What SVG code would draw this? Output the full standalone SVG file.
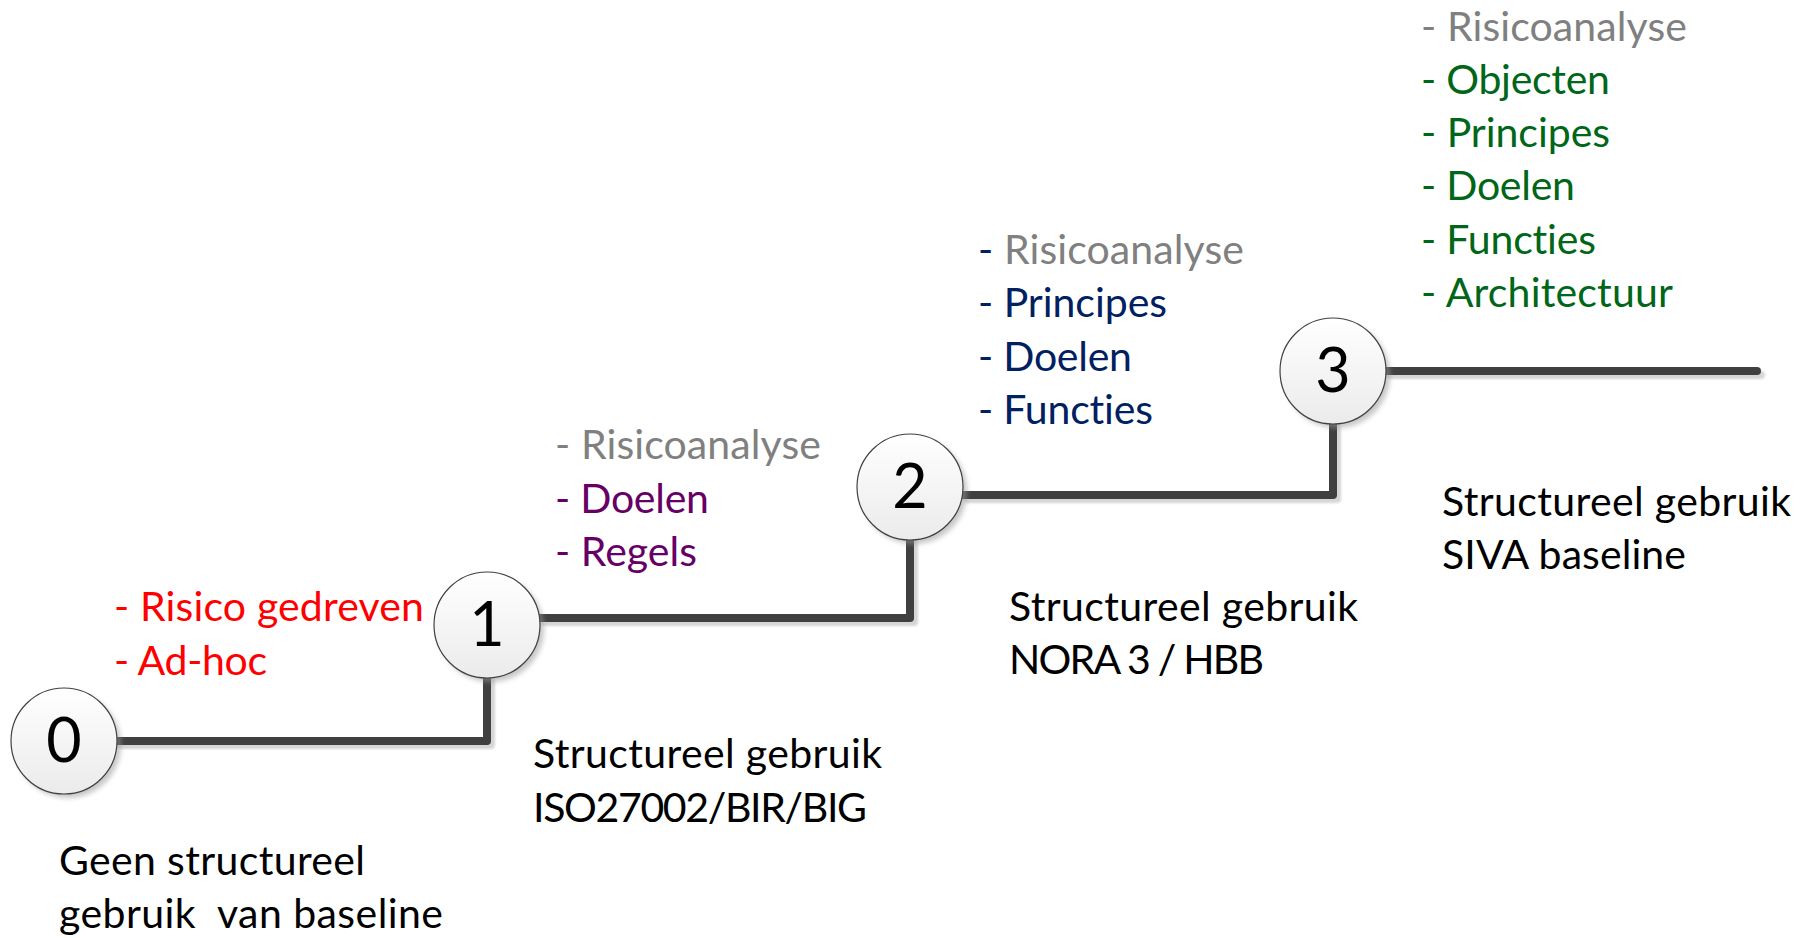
<svg xmlns="http://www.w3.org/2000/svg" width="1815" height="938" viewBox="0 0 1815 938">
  <style>
    .txt { font-family: Lato, "Open Sans", "Liberation Sans", sans-serif; font-size: 41px; font-variant-ligatures: none; }
    .digit { font-family: Lato, "Open Sans", "Liberation Sans", sans-serif; font-size: 61px; fill: #000000; text-anchor: middle; }
    .black { fill: #000000; }
    .red { fill: #FF0000; }
    .grey { fill: #808080; }
    .purple { fill: #660066; }
    .navy { fill: #002060; }
    .green { fill: #006618; }
    .step { fill: none; stroke: #404040; stroke-width: 8; stroke-linejoin: round; stroke-linecap: round; }
    .step-shadow { fill: none; stroke: #d6d6d6; stroke-width: 8; stroke-linejoin: round; stroke-linecap: round; }
    .ring { fill: url(#ringFill); stroke: #404040; stroke-width: 1.2; }
    .ring-shadow { fill: #9a9a9a; opacity: 0.55; }
  </style>
  <defs>
    <linearGradient id="ringFill" x1="0" y1="0" x2="0" y2="1">
      <stop offset="0" stop-color="#ffffff"/>
      <stop offset="1" stop-color="#ebebeb"/>
    </linearGradient>
    <filter id="soft" x="-20%" y="-20%" width="140%" height="140%">
      <feGaussianBlur stdDeviation="2.5"/>
    </filter>
    <filter id="softLine" x="-5%" y="-50%" width="110%" height="200%">
      <feGaussianBlur stdDeviation="1"/>
    </filter>
  </defs>

  <rect width="1815" height="938" fill="#ffffff"/>

  <!-- staircase connectors -->
  <g id="connectors">
    <g filter="url(#softLine)" transform="translate(4,4)">
      <path class="step-shadow" d="M117,741 H487 V677"/>
      <path class="step-shadow" d="M540,618 H910 V540"/>
      <path class="step-shadow" d="M963,495 H1333 V424"/>
      <path class="step-shadow" d="M1386,371 H1757"/>
    </g>
    <path id="edge-0-1" class="step" d="M117,741 H487 V677"/>
    <path id="edge-1-2" class="step" d="M540,618 H910 V540"/>
    <path id="edge-2-3" class="step" d="M963,495 H1333 V424"/>
    <path id="edge-3-end" class="step" d="M1386,371 H1757"/>
  </g>

  <!-- level nodes -->
  <g id="node-0">
    <circle class="ring-shadow" cx="68" cy="745" r="53" filter="url(#soft)"/>
    <circle class="ring" cx="64" cy="741" r="53"/>
    <text class="digit" x="64" y="762">0</text>
  </g>
  <g id="node-1">
    <circle class="ring-shadow" cx="491" cy="629" r="53" filter="url(#soft)"/>
    <circle class="ring" cx="487" cy="625" r="53"/>
    <text class="digit" x="487" y="646">1</text>
  </g>
  <g id="node-2">
    <circle class="ring-shadow" cx="914" cy="491" r="53" filter="url(#soft)"/>
    <circle class="ring" cx="910" cy="487" r="53"/>
    <text class="digit" x="910" y="508">2</text>
  </g>
  <g id="node-3">
    <circle class="ring-shadow" cx="1337" cy="375" r="53" filter="url(#soft)"/>
    <circle class="ring" cx="1333" cy="371" r="53"/>
    <text class="digit" x="1333" y="392">3</text>
  </g>

  <!-- level 0 -->
  <g id="level-0-traits" class="txt red">
    <text x="114" y="621" textLength="310">- Risico gedreven</text>
    <text x="114" y="675" textLength="153">- Ad-hoc</text>
  </g>
  <g id="level-0-caption" class="txt black">
    <text x="59" y="875" textLength="306">Geen structureel</text>
    <text x="59" y="928" textLength="384" xml:space="preserve">gebruik  van baseline</text>
  </g>

  <!-- level 1 -->
  <g id="level-1-traits" class="txt">
    <text class="grey" x="555" y="459" textLength="266">- Risicoanalyse</text>
    <text class="purple" x="555" y="513" textLength="154">- Doelen</text>
    <text class="purple" x="555" y="566" textLength="142">- Regels</text>
  </g>
  <g id="level-1-caption" class="txt black">
    <text x="533" y="768" textLength="349">Structureel gebruik</text>
    <text x="533" y="822" textLength="334">ISO27002/BIR/BIG</text>
  </g>

  <!-- level 2 -->
  <g id="level-2-traits" class="txt">
    <text x="978" y="264" textLength="266"><tspan class="navy">- </tspan><tspan class="grey">Risicoanalyse</tspan></text>
    <text class="navy" x="978" y="317" textLength="189">- Principes</text>
    <text class="navy" x="978" y="371" textLength="154">- Doelen</text>
    <text class="navy" x="978" y="424" textLength="175">- Functies</text>
  </g>
  <g id="level-2-caption" class="txt black">
    <text x="1009" y="621" textLength="349">Structureel gebruik</text>
    <text x="1009" y="674" textLength="255">NORA 3 / HBB</text>
  </g>

  <!-- level 3 -->
  <g id="level-3-traits" class="txt">
    <text class="grey" x="1421" y="41" textLength="266">- Risicoanalyse</text>
    <text class="green" x="1421" y="94" textLength="189">- Objecten</text>
    <text class="green" x="1421" y="147" textLength="189">- Principes</text>
    <text class="green" x="1421" y="200" textLength="154">- Doelen</text>
    <text class="green" x="1421" y="254" textLength="175">- Functies</text>
    <text class="green" x="1421" y="307" textLength="252">- Architectuur</text>
  </g>
  <g id="level-3-caption" class="txt black">
    <text x="1442" y="516" textLength="349">Structureel gebruik</text>
    <text x="1442" y="569" textLength="244">SIVA baseline</text>
  </g>
</svg>
